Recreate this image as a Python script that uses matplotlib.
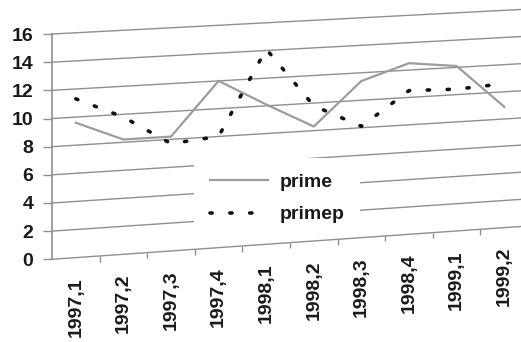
import numpy as np
import matplotlib
matplotlib.use('Agg')
import matplotlib.pyplot as plt
import matplotlib.transforms as mtransforms

quarters = ['1997,1', '1997,2', '1997,3', '1997,4', '1998,1',
            '1998,2', '1998,3', '1998,4', '1999,1', '1999,2']
prime  = [9.6, 8.2, 8.2, 12.0, 10.1, 8.3, 11.4, 12.5, 12.1, 8.9]
primep = [11.3, 9.8, 7.7, 8.0, 14.1, 9.8, 8.1, 10.5, 10.4, 10.6]
y_ticks = [0, 2, 4, 6, 8, 10, 12, 14, 16]


class Tilt(mtransforms.Transform):
    """Slanted (scanned page) look: lines rise to the right, a bit less at the top."""
    input_dims = 2
    output_dims = 2
    is_separable = False
    has_inverse = False

    def __init__(self, x0, y0, a, c):
        super().__init__()
        self.x0, self.y0, self.a, self.c = x0, y0, a, c

    def transform_non_affine(self, values):
        xy = np.array(values, dtype=float)
        dx = xy[:, 0] - self.x0
        out = xy.copy()
        out[:, 1] = xy[:, 1] + (self.a - self.c * (xy[:, 1] - self.y0)) * dx
        return out


plt.rcParams['font.family'] = ['Liberation Sans', 'DejaVu Sans']
plt.rcParams['font.weight'] = 'bold'

W, H = 521, 342
x0, y0 = 52, 82.7        # axes origin in pixels
unit = 14.08             # pixels per y unit at the axis

fig = plt.figure(figsize=(W / 100, H / 100), dpi=100)
ax = fig.add_axes([x0 / W, y0 / H, 476 / W, unit * 16 / H])
ax.set_xlim(-0.5, 9.5)
ax.set_ylim(0, 16)
ax.patch.set_visible(False)
tilt = ax.transData + Tilt(x0, y0, 0.070, 0.0011 / unit)

grid_col = '#8f8f8f'
txt_col = '#1a1a1a'

for v in y_ticks:
    ax.plot([-0.5, 9.5], [v, v], color=grid_col, lw=1.0, transform=tilt,
            clip_on=False, zorder=3 if v == 0 else 1)

x = np.arange(len(quarters))
ax.plot(x, prime, color='#9c9c9c', lw=1.6, transform=tilt, clip_on=False,
        zorder=4, label='prime')
ax.plot(x, primep, color='#111111', lw=2.6, ls=(0, (0.6, 4.9)),
        dash_capstyle='round', transform=tilt, clip_on=False, zorder=4,
        label='primep')

# category tick marks between quarters on the slanted base line
ax.vlines(x[:-1] + 0.5, -0.4, 0, colors=grid_col, lw=1.0, transform=tilt,
          clip_on=False, zorder=3)
for i, q in enumerate(quarters):
    ax.annotate(q, xy=(i, 0), xycoords=tilt, xytext=(0, -14),
                textcoords='offset points', rotation=90, ha='center', va='top',
                fontsize=14, color=txt_col, annotation_clip=False)

ax.set_xticks([])
ax.set_yticks(y_ticks)
ax.tick_params(axis='y', direction='out', length=6.5, width=1, color=grid_col,
               pad=7, labelsize=14, labelcolor=txt_col)
for side in ['top', 'right', 'bottom']:
    ax.spines[side].set_visible(False)
ax.spines['left'].set_color(grid_col)
ax.spines['left'].set_linewidth(1.2)

leg = ax.legend(loc='center', bbox_to_anchor=(277 / W, (H - 198.5) / H),
                bbox_transform=fig.transFigure, frameon=True, facecolor='white',
                edgecolor='none', framealpha=1, fancybox=False, fontsize=14,
                labelcolor=txt_col, handlelength=3.0, handletextpad=0.6,
                labelspacing=0.75, borderpad=0.8)
leg.set_zorder(2)

fig.savefig('out.png', dpi=100)
